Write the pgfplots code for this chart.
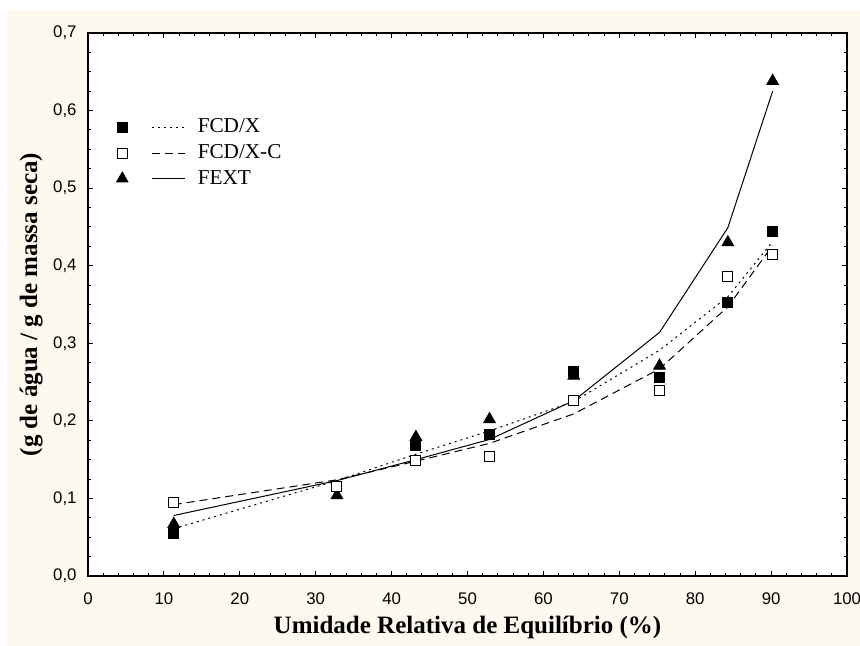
\documentclass[border=0pt]{standalone}
\usepackage{fontspec}
\setmainfont{Liberation Serif}
\newfontfamily\arialfont{Liberation Sans}
\usepackage{pgfplots}
\pgfplotsset{compat=1.18}

\definecolor{paper}{RGB}{253,249,238}

% measured sorption data (points)
\pgfplotstableread{
x     y
11.3  0.055
32.8  0.116
43.2  0.168
52.9  0.183
64.0  0.263
75.3  0.256
84.3  0.352
90.2  0.444
}\fcdx
\pgfplotstableread{
x     y
11.3  0.095
32.8  0.116
43.2  0.149
52.9  0.154
64.0  0.226
75.3  0.239
84.3  0.386
90.2  0.414
}\fcdxc
\pgfplotstableread{
x     y
11.3  0.067
32.8  0.104
43.2  0.179
52.9  0.202
64.0  0.258
75.3  0.271
84.3  0.430
90.2  0.638
}\fext
% fitted model curves
\pgfplotstableread{
x     y
11.3  0.061
32.8  0.123
43.2  0.157
52.9  0.187
64.0  0.225
75.3  0.291
84.3  0.360
90.2  0.431
}\fcdxfit
\pgfplotstableread{
x     y
11.3  0.092
32.8  0.124
43.2  0.148
52.9  0.171
64.0  0.209
75.3  0.267
84.3  0.347
90.2  0.426
}\fcdxcfit
\pgfplotstableread{
x     y
11.3  0.078
32.8  0.123
43.2  0.150
52.9  0.176
64.0  0.226
75.3  0.314
84.3  0.449
90.2  0.625
}\fextfit

\begin{document}
\begin{tikzpicture}
\path[use as bounding box, fill=white] (0,0) rectangle (430pt,323pt);
\fill[paper] (3.5pt,0pt) rectangle (430pt,318pt);
\begin{axis}[
  at={(44pt,35pt)}, anchor=south west,
  scale only axis, width=379.5pt, height=271.5pt,
  xmin=0, xmax=100, ymin=0, ymax=0.7,
  axis background/.style={fill=white},
  axis line style={line width=0.7pt},
  xtick={0,10,...,100},
  ytick={0,0.1,0.2,0.3,0.4,0.5,0.6,0.7},
  yticklabels={{0,0},{0,1},{0,2},{0,3},{0,4},{0,5},{0,6},{0,7}},
  minor x tick num=4, minor y tick num=3,
  tick align=inside,
  major tick length=2.5pt, minor tick length=1.5pt,
  tick style={black, line width=0.5pt},
  /pgf/number format/assume math mode=true,
  ticklabel style={font=\arialfont\fontsize{8.4}{10}\selectfont},
  xticklabel style={yshift=-4.7pt},
  yticklabel style={xshift=-2.2pt},
  xlabel={Umidade Relativa de Equilíbrio (\%)},
  ylabel={(g de água / g de massa seca)},
  label style={font=\bfseries\fontsize{12.5}{15}\selectfont},
  xlabel style={at={(axis description cs:0.5,0)}, anchor=base, yshift=-28.75pt},
  ylabel style={at={(axis description cs:0,0.5)}, anchor=base, yshift=25.5pt},
  legend style={draw=none, fill=none, at={(axis description cs:0.0292,0.779)},
    anchor=west, font=\fontsize{10.6}{12}\selectfont,
    row sep=0.3pt, column sep=4pt},
  legend cell align=left,
]
% fitted curves
\addplot[black, line width=0.5pt, dash pattern=on 1pt off 2pt, forget plot] table {\fcdxfit};
\addplot[black, line width=0.5pt, dash pattern=on 4pt off 2.5pt, forget plot] table {\fcdxcfit};
\addplot[black, line width=0.5pt, forget plot] table {\fextfit};
% experimental points
\addplot[only marks, mark=square*, mark size=2.5pt, mark options={draw=black, fill=black, line width=0.5pt}, forget plot] table {\fcdx};
\addplot[only marks, mark=triangle*, mark size=3.3pt, mark options={draw=black, fill=black, line width=0.5pt}, forget plot] table {\fext};
\addplot[only marks, mark=square*, mark size=2.5pt, mark options={draw=black, fill=white, line width=0.5pt}, forget plot] table {\fcdxc};
% legend: marker, line sample, name
\addlegendimage{legend image code/.code={
  \draw plot[only marks, mark=square*, mark size=2.5pt, mark options={draw=black, fill=black}] coordinates {(0pt,0pt)};
  \draw[black, line width=0.5pt, dash pattern=on 1pt off 2pt] (15pt,0pt) -- (31.5pt,0pt);}}
\addlegendentry{FCD/X}
\addlegendimage{legend image code/.code={
  \draw plot[only marks, mark=square*, mark size=2.5pt, mark options={draw=black, fill=white, line width=0.5pt}] coordinates {(0pt,0pt)};
  \draw[black, line width=0.5pt, dash pattern=on 4pt off 2.5pt] (15pt,0pt) -- (31.5pt,0pt);}}
\addlegendentry{FCD/X-C}
\addlegendimage{legend image code/.code={
  \draw plot[only marks, mark=triangle*, mark size=3.3pt, mark options={draw=black, fill=black}] coordinates {(0pt,0pt)};
  \draw[black, line width=0.5pt] (15pt,0pt) -- (31.5pt,0pt);}}
\addlegendentry{FEXT}
\end{axis}
\end{tikzpicture}
\end{document}
